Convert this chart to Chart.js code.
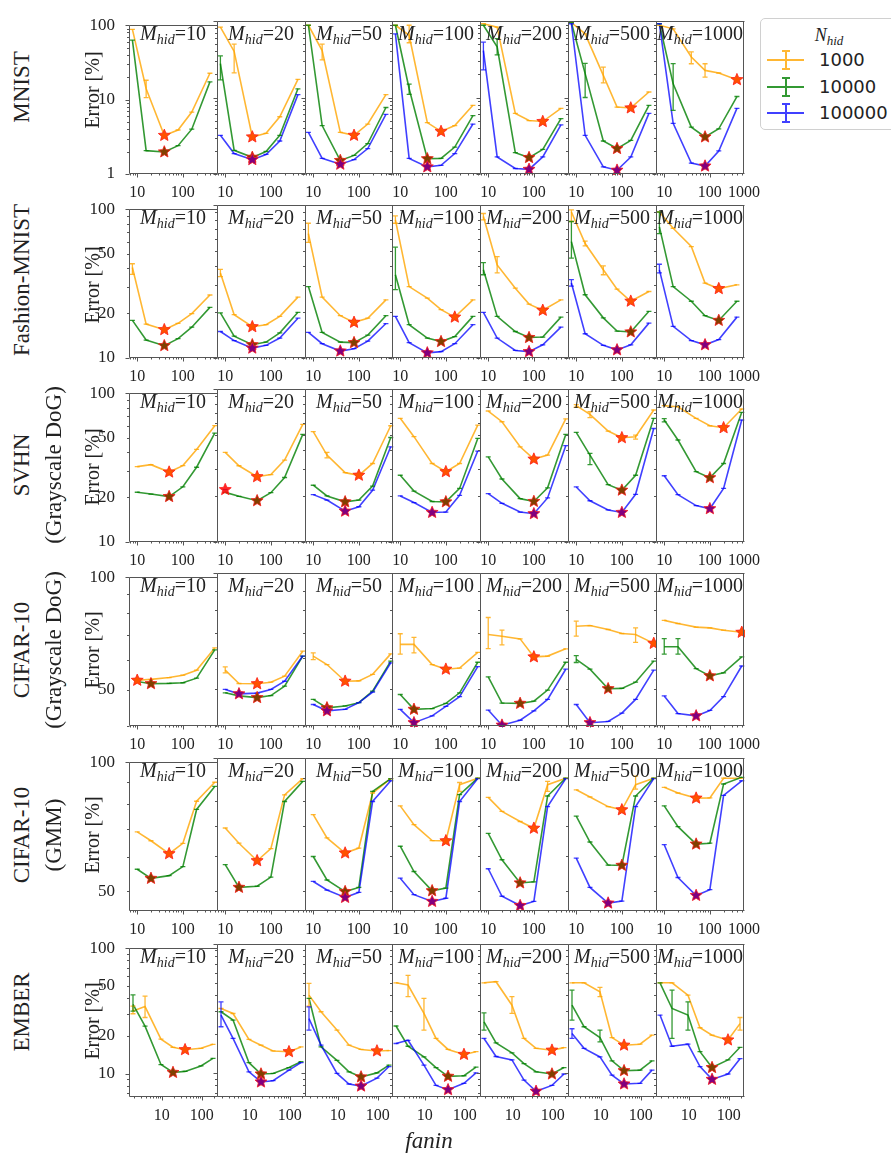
<!DOCTYPE html>
<html>
<head>
<meta charset="utf-8">
<script src="https://cdn.jsdelivr.net/npm/chart.js@4.4.1/dist/chart.umd.min.js"></script>
<style>
  body { margin: 0; background: #fff; }
  #page { position: relative; width: 891px; height: 1158px; overflow: hidden; font-family: 'Liberation Serif', serif; color: #222; }
  canvas { position: absolute; z-index: 1; }
  .t { position: absolute; white-space: nowrap; line-height: 1; z-index: 2; }
  .rot { transform: translate(-50%, -50%) rotate(-90deg); }
  .mh { font-size: 20px; line-height: 20px; transform: translateX(-50%); }
  .mh sub, .nh sub { font-style: italic; vertical-align: -4px; line-height: 0; }
  .mh sub { font-size: 14px; }
  #legend { position: absolute; left: 760px; top: 18px; width: 150px; height: 110px; border: 1px solid #d0d0d0; border-radius: 5px; background: #fff; z-index: 3; }
  .nh { position: absolute; left: 68px; top: 6px; transform: translateX(-50%); font-size: 18px; font-style: italic; }
  .nh sub { font-size: 13px; }
  .li { position: absolute; left: 58px; font-family: 'DejaVu Sans', sans-serif; font-size: 18px; line-height: 20px; }
  .ic { position: absolute; }
</style>
</head>
<body>
<div id="page"></div>
<script>
// panels: rows = datasets, columns = M_hid
const mHid = [10, 20, 50, 100, 200, 500, 1000]
const rowNames = [['MNIST'], ['Fashion-MNIST'], ['SVHN', '(Grayscale DoG)'], ['CIFAR-10', '(Grayscale DoG)'], ['CIFAR-10', '(GMM)'], ['EMBER']]
const nHid = ['1000', '10000', '100000']

// fanin values (x)
const mnistFanin = [7.84, 15.68, 39.2, 78.4, 156.8, 392]
const imageFanin = [10, 20, 50, 100, 200, 500]
const emberFanin = [1.9, 3.8, 9.5, 19, 38, 95, 190]

// tick labels
const xTickVals = [10, 100, 1000]
const yLow = [1, 10, 10, 40, 45, 6.5]
const yTickLabels = [[1, 10, 100], [10, 20, 50, 100], [10, 20, 50, 100], [50, 100], [50, 100], [10, 20, 50, 100]]

// error [%], one sub-array per M_hid panel
const mnistOrange = [
  [88, 14, 3.3, 3.9, 6.8, 22.6],
  [83, 40, 3.05, 3.4, 5.6, 17.3],
  [88, 41, 3.5, 3.2, 4.5, 10.9],
  [88, 65, 4.7, 3.6, 4.3, 7.9],
  [92, 83, 6.2, 5.0, 4.85, 7.2],
  [95, 68, 19.5, 7.5, 7.3, 11.8],
  [88, 79, 33.8, 22.6, 20.9, 17.1]
]
const mnistGreen = [
  [63, 2.06, 1.98, 2.4, 4.0, 17.3],
  [27.7, 2.04, 1.65, 1.97, 3.2, 13],
  [88, 4.3, 1.5, 1.75, 2.5, 7.4],
  [88, 13, 1.58, 1.6, 2.25, 5.8],
  [88, 46, 1.9, 1.64, 2.1, 5.3],
  [95, 20.5, 2.7, 2.15, 2.75, 7.9],
  [92, 15.1, 4.1, 3.05, 3.9, 10.3]
]
const mnistBlue = [
  null,
  [3.2, 1.85, 1.54, 1.8, 2.7, 10.9],
  [3.5, 1.6, 1.34, 1.54, 2.15, 6.0],
  [68, 1.6, 1.24, 1.3, 1.85, 4.5],
  [41, 1.67, 1.18, 1.15, 1.67, 4.4],
  [92, 3.2, 1.24, 1.12, 1.67, 6.2],
  [92, 4.6, 1.39, 1.27, 2.0, 7.2]
]
const fmnistOrange = [
  [40.6, 16.9, 15.5, 17.1, 19.9, 26.5],
  [35.9, 19.2, 16.0, 16.5, 18.7, 25],
  [65, 25, 18.9, 17.1, 18.2, 24.0],
  [80, 29.3, 24.6, 20.7, 18.5, 24],
  [84, 40.6, 28.6, 22.5, 20.5, 24.0],
  [90, 56, 37.7, 28.2, 23.5, 27.2],
  [90, 70.5, 53.5, 30.9, 28.4, 30.1]
]
const fmnistGreen = [
  [17.9, 13.2, 12.1, 13.5, 16.1, 21.9],
  [19.7, 13.9, 12.2, 12.7, 14.6, 19.9],
  [29.3, 14.7, 12.7, 12.6, 14.1, 18.9],
  [35, 16.5, 13.5, 12.8, 13.8, 18.7],
  [37.7, 18.7, 14.9, 13.6, 13.7, 18.5],
  [57.6, 25.9, 18.3, 15.0, 14.8, 20.2],
  [72, 29.3, 23.5, 18.9, 17.6, 23.5]
]
const fmnistBlue = [
  null,
  [14.9, 13.0, 11.6, 12.1, 13.5, 18.2],
  [14.7, 12.4, 11.1, 11.5, 12.9, 16.8],
  [18.7, 12.6, 10.8, 11.0, 12.4, 16.5],
  [19.9, 13.5, 11.2, 11.0, 12.2, 15.9],
  [30.9, 14.4, 12.1, 11.3, 12.2, 16.9],
  [37.7, 16.1, 13.0, 12.2, 13.2, 18.5]
]
const svhnOrange = [
  [32.1, 33.1, 29.5, 32.6, 41.9, 60.5],
  [38.5, 31.5, 26.7, 27.6, 34.3, 58.7],
  [52.6, 37, 28.4, 27.3, 32.6, 57.5],
  [64.3, 48.8, 32.6, 28.8, 32.6, 58.1],
  [71.8, 61.1, 41.9, 34.8, 37, 63.7],
  [77.8, 68.2, 53.1, 48, 48.7, 72.9],
  [77.8, 76.6, 64.3, 57.5, 55.8, 74]
]
const svhnGreen = [
  [21.6, 21, 20.2, 23.5, 31.8, 53.9],
  [21.1, 19.9, 18.6, 21, 26.4, 50.5],
  [23.5, 20, 18.3, 18.8, 23.2, 48.2],
  [27.3, 21.5, 18.4, 18.3, 22.4, 47.5],
  [36, 25.8, 19.2, 18.4, 22.6, 50.5],
  [52, 37, 23.7, 21.8, 27.3, 64.3],
  [62.7, 46.4, 28.8, 26.3, 32.6, 70.4]
]
const svhnBlue = [
  null,
  [22, null, null, null, null, null],
  [20.4, 18.8, 15.9, 17.0, 21.8, 41.9],
  [20, 18.1, 15.6, 15.7, 20.2, 39.3],
  [20.7, 17.9, 15.7, 15.3, 19.4, 42.6],
  [22.9, 18.6, 16.2, 15.6, 20.5, 55.2],
  [27.1, 20.4, 17.3, 16.5, 22.4, 62.7]
]
const cdogOrange = [
  [53.0, 53.3, 53.9, 54.7, 56.4, 64.7],
  [55.9, 51.6, 51.5, 52, 53.9, 62.6],
  [60.8, 57.8, 52.3, 52.4, 54.5, 61.6],
  [65.2, 65.2, 57.8, 56.2, 56.6, 62.2],
  [69.2, 68.5, 67.4, 60.5, 60.8, 63.5],
  [72.7, 73.0, 71.3, 69.6, 69.2, 65.6],
  [75.3, 73.9, 72.3, 72.0, 71.0, 70.1]
]
const cdogGreen = [
  [52.6, 51.9, 52.0, 52.2, 53.7, 63.9],
  [48.8, 47.9, 47.4, 48, 50.8, 60.8],
  [46.9, 44.6, 45.1, 46, 49.3, 59.0],
  [48.3, 44.2, 44.4, 45.8, 48.8, 58.6],
  [53.7, 45.9, 45.8, 46.4, 49.6, 58.6],
  [59.6, 56.2, 50.0, 50.1, 52.0, 59.0],
  [64.3, 64.3, 56.4, 54.0, 55.0, 60.5]
]
const cdogBlue = [
  null,
  [49.8, 48.5, 48.7, 49.8, 52.3, 60.8],
  [45.5, 43.8, 44.2, 46.0, 49, 58.4],
  [44.2, 40.8, 42.5, 45, 47.7, 57.1],
  [44.0, 40.2, 41.4, 43.8, 46.9, 56.2],
  [45.5, 40.8, 41.1, 43.2, 46.9, 55.9],
  [47.9, 43.1, 42.5, 43.9, 47.7, 57.3]
]
const gmmOrange = [
  [68.8, 65.6, 61.2, 64.7, 81.1, 89.8],
  [69.4, 64.1, 58.5, 62.3, 82.5, 89.8],
  [74.4, 65.9, 60.9, 62.5, 83.3, 89.8],
  [77.9, 70.6, 65.0, 64.9, 87.0, 90],
  [81.4, 75.7, 71.8, 69.3, 87.0, 90],
  [84.7, 81.6, 77.6, 76.3, 87.0, 90],
  [85.8, 83.3, 81.1, 81.2, 90, 90]
]
const gmmGreen = [
  [56.3, 53.6, 54.4, 57.1, 77.6, 87.8],
  [57.3, 50.9, 51.2, 53.7, 79.7, 88.5],
  [59.8, 52.9, 49.8, 50.9, 84.0, 89.8],
  [63.1, 55.3, 50.0, 50.7, 82.6, 90],
  [67.5, 58.8, 52.1, 52.4, 82.0, 90],
  [73.8, 64.5, 57.2, 57.1, 82.0, 90],
  [77.9, 69.9, 63.8, 64.1, 87.3, 90.4]
]
const gmmBlue = [
  null,
  null,
  [52.5, 50.2, 48.3, 49.6, 79.7, 88.8],
  [53.4, 49.0, 47.3, 48.1, 79.7, 89.8],
  [56.1, 48.6, 46.3, 47.3, 77.6, 89.8],
  [59.3, 50.9, 46.9, 47.4, 77.6, 89.8],
  [63.6, 53.6, 48.8, 50.3, 82.3, 88.8]
]
const emberOrange = [
  [31.6, 34.2, 18.8, 16.2, 15.5, 15.9, 17.1],
  [31.6, 28.9, 18.2, 16.4, 14.8, 14.6, 15.9],
  [40.1, 29.8, 21.5, 16.4, 15.2, 14.8, 14.9],
  [50, 48, 29, 18.5, 15.2, 13.9, 14.6],
  [50, 51, 33.5, 18.5, 15.5, 15.0, 15.7],
  [50, 50, 42.6, 18.8, 16.4, 16.7, 19.6],
  [50, 50, 40.1, 22.4, 19.6, 18.0, 24.1]
]
const emberGreen = [
  [35.6, 23.9, 11.8, 10.2, 10.4, 11.5, 13.2],
  [29.8, 25.7, 12.0, 9.8, 9.9, 11.0, 12.2],
  [37.9, 15.9, 12.5, 10.2, 9.3, 10.0, 11.5],
  [23.1, 16.1, 13.3, 11.0, 9.4, 9.5, 11.1],
  [24.9, 17.1, 14.3, 11.8, 10.2, 9.8, 11.0],
  [33.5, 22.8, 18.8, 12.4, 10.4, 10.5, 12.4],
  [50, 31.6, 28.1, 14.6, 11.0, 12.6, 15.8]
]
const emberBlue = [
  null,
  [28.1, 18.5, 10.2, 8.5, 8.7, 10.5, 12.0],
  [26.4, 16.4, 9.9, 8.2, 7.9, 9.1, 11.2],
  [16.9, 17.9, 11.5, 8.0, 7.4, 8.3, 10.0],
  [18.5, 13.4, 12.6, 8.8, 7.2, 8.0, 9.8],
  [20.2, 15.5, 13.3, 9.6, 8.2, 8.3, 10.5],
  [28.1, 16.1, 16.7, 11.2, 8.9, 9.8, 12.9]
]

// larger error bars: [row, panel, series, point, low, high]
const errBars = [
  [0,0,0,1,10.6,18.2],
  [0,1,0,1,21,50], [0,1,1,0,17,35],
  [0,2,0,1,31,50],
  [0,3,0,1,52,88], [0,3,1,1,11,15],
  [0,4,1,1,36,59], [0,4,2,0,23,53],
  [0,5,0,2,15.5,25], [0,5,1,1,10,28],
  [0,6,0,2,27.6,39.5], [0,6,0,3,18.5,27.6], [0,6,1,1,6.8,27.7],
  [1,0,0,0,36.5,43],
  [1,1,0,0,34,38],
  [1,2,0,0,57,76],
  [1,3,0,0,76,85], [1,3,1,0,28,53],
  [1,4,0,0,80,88], [1,4,0,1,36,46], [1,4,1,0,35,42],
  [1,5,0,0,78,93], [1,5,0,1,54,58], [1,5,0,2,35,40], [1,5,1,0,45,78], [1,5,2,0,29.5,32.5],
  [1,6,1,0,65,90], [1,6,2,0,36,41],
  [2,2,0,1,35.5,38.5],
  [2,5,0,0,76,79], [2,5,0,1,65,71], [2,5,0,4,47,50], [2,5,1,1,32,38],
  [2,6,1,0,61,64],
  [3,1,0,0,55,57],
  [3,2,0,0,59.5,62],
  [3,3,0,0,61.5,69.5], [3,3,0,1,62,68],
  [3,4,0,0,63.6,76.6], [3,4,0,1,65,71],
  [3,5,0,0,68.5,75], [3,5,0,4,66,72], [3,5,1,0,58.5,61],
  [3,6,1,0,61.5,67.5], [3,6,1,1,61.5,67.5],
  [4,3,0,4,84,88],
  [4,4,0,4,84,88.5],
  [4,5,0,4,85,91],
  [5,0,0,0,30,34.5], [5,0,0,1,28,41.4], [5,0,1,0,31.5,42.5],
  [5,1,2,0,22.8,35.6],
  [5,2,0,0,33,49.5], [5,2,2,0,21.5,32.5],
  [5,3,0,1,39,57], [5,3,0,2,21.5,37.8],
  [5,4,0,2,29,39], [5,4,1,0,21.5,29.2],
  [5,5,1,0,25.7,43.9], [5,5,0,2,39,46], [5,5,2,0,18.5,22], [5,5,1,2,17.4,21.5],
  [5,6,1,1,18.5,43.9], [5,6,1,2,21.5,35.6], [5,6,0,6,21.5,26.9]
]

const rowFanin = [mnistFanin, mnistFanin, imageFanin, imageFanin, imageFanin, emberFanin]
const rowSeries = [
  [mnistOrange, mnistGreen, mnistBlue],
  [fmnistOrange, fmnistGreen, fmnistBlue],
  [svhnOrange, svhnGreen, svhnBlue],
  [cdogOrange, cdogGreen, cdogBlue],
  [gmmOrange, gmmGreen, gmmBlue],
  [emberOrange, emberGreen, emberBlue]
]

// layout
const colLeft = [129, 217, 305, 392, 480, 568, 656]
const rowTop = [21, 205, 389, 573, 758, 944]
const plotW = 88, plotH = 153
const padL = 44, padR = 30, padT = 12, padB = 30
const xRange = [[6.6, 560], [6.6, 560], [6.6, 560], [6.6, 560], [6.6, 560], [1.51, 239]]
const lineColor = ['rgba(255,165,0,0.8)', 'rgba(0,128,0,0.8)', 'rgba(0,0,255,0.75)']
const solidColor = ['#ffa500', '#008000', '#0000ff']
const rowLabelY = [87, 280, 465, 650, 835, 1012]
const errLabelY = [90, 285, 467, 650, 835, 1021]

Chart.defaults.font.family = "'Liberation Serif', serif"
Chart.defaults.color = '#222'

const page = document.getElementById('page')

function starPath(ctx, x, y, R) {
  const r = R * 0.45
  ctx.beginPath()
  for (let k = 0; k < 10; k++) {
    const a = -Math.PI / 2 + k * Math.PI / 5
    const rad = k % 2 ? r : R
    ctx.lineTo(x + rad * Math.cos(a), y + rad * Math.sin(a))
  }
  ctx.closePath()
}

const decor = {
  id: 'decor',
  afterDatasetsDraw(chart) {
    const ctx = chart.ctx, a = chart.chartArea, ys = chart.scales.y
    ctx.save()
    ctx.beginPath()
    ctx.rect(a.left - 1, a.top - 1, a.right - a.left + 2, a.bottom - a.top + 2)
    ctx.clip()
    chart.data.datasets.forEach((ds, d) => {
      const meta = chart.getDatasetMeta(d)
      ctx.strokeStyle = ds.borderColor
      ctx.lineWidth = 1.3
      ds.data.forEach((p, i) => {
        if (p.y == null) return
        const x = meta.data[i].x
        const e = ds.errs[i]
        const lo = e ? ys.getPixelForValue(e[0]) : meta.data[i].y
        const hi = e ? ys.getPixelForValue(e[1]) : meta.data[i].y
        ctx.beginPath()
        ctx.moveTo(x, lo); ctx.lineTo(x, hi)
        ctx.moveTo(x - 2.5, lo); ctx.lineTo(x + 2.5, lo)
        ctx.moveTo(x - 2.5, hi); ctx.lineTo(x + 2.5, hi)
        ctx.stroke()
      })
    })
    // stars mark the best fanin of each curve
    chart.data.datasets.forEach((ds, d) => {
      const meta = chart.getDatasetMeta(d)
      let best = -1, n = 0
      ds.data.forEach((p, i) => {
        if (p.y == null) return
        n++
        if (best < 0 || p.y < ds.data[best].y) best = i
      })
      if (best < 0) return
      const el = meta.data[best]
      starPath(ctx, el.x, el.y, 6.3)
      if (n > 1) {
        ctx.fillStyle = ds.solid
        ctx.fill()
        ctx.fillStyle = 'rgba(255,0,0,0.5)'
      } else {
        ctx.fillStyle = 'rgba(255,0,0,0.85)'
      }
      ctx.fill()
      ctx.strokeStyle = 'rgba(255,30,30,0.8)'
      ctx.lineWidth = 1
      ctx.stroke()
    })
    ctx.restore()
  },
  afterDraw(chart, args, opts) {
    const ctx = chart.ctx, a = chart.chartArea
    const xs = chart.scales.x, ys = chart.scales.y
    ctx.save()
    ctx.strokeStyle = '#555'
    ctx.lineWidth = 1
    ctx.beginPath()
    const L = Math.round(a.left) + 0.5, T = Math.round(a.top) + 0.5
    const R = Math.round(a.right) - 0.5, B = Math.round(a.bottom) - 0.5
    ctx.moveTo(L, T); ctx.lineTo(R + 1, T)
    ctx.moveTo(L, T); ctx.lineTo(L, B)
    ctx.moveTo(L, B); ctx.lineTo(R + 1, B)
    if (opts.last) { ctx.moveTo(R, T); ctx.lineTo(R, B) }
    // y ticks, outward on the left spine
    for (let k = Math.floor(Math.log10(ys.min)); k <= 2; k++) {
      for (let m = 1; m <= 9; m++) {
        const v = m * Math.pow(10, k)
        if (v < ys.min - 1e-9 || v > ys.max + 1e-9) continue
        const y = Math.round(ys.getPixelForValue(v)) + 0.5
        ctx.moveTo(L, y); ctx.lineTo(L - (m === 1 ? 4 : 2.5), y)
      }
    }
    // x ticks, outward on the bottom spine
    for (let k = Math.floor(Math.log10(xs.min)); k <= Math.ceil(Math.log10(xs.max)); k++) {
      for (let m = 1; m <= 9; m++) {
        const v = m * Math.pow(10, k)
        if (v < xs.min || v > xs.max) continue
        const x = Math.round(xs.getPixelForValue(v)) + 0.5
        ctx.moveTo(x, B); ctx.lineTo(x, B + (m === 1 ? 4 : 2))
      }
    }
    ctx.stroke()
    ctx.restore()
  }
}

function makePanel(r, c) {
  const cv = document.createElement('canvas')
  cv.width = plotW + padL + padR
  cv.height = plotH + padT + padB
  cv.style.left = (colLeft[c] - padL) + 'px'
  cv.style.top = (rowTop[r] - padT) + 'px'
  page.appendChild(cv)
  const fanin = rowFanin[r]
  const datasets = []
  rowSeries[r].forEach((ser, s) => {
    const vals = ser[c]
    if (!vals) return
    const errs = vals.map(() => null)
    errBars.forEach(e => { if (e[0] === r && e[1] === c && e[2] === s) errs[e[3]] = [e[4], e[5]] })
    datasets.push({
      label: nHid[s],
      data: vals.map((v, i) => ({ x: fanin[i], y: v })),
      borderColor: lineColor[s],
      borderWidth: 1.6,
      pointRadius: 0,
      tension: 0,
      order: 3 - s,
      errs: errs,
      solid: solidColor[s]
    })
  })
  new Chart(cv, {
    type: 'line',
    data: { datasets },
    options: {
      responsive: false,
      animation: false,
      devicePixelRatio: 1,
      events: [],
      layout: { padding: { left: 0, right: padR, top: padT, bottom: 0 } },
      plugins: { legend: { display: false }, tooltip: { enabled: false }, decor: { last: c === 6 } },
      scales: {
        x: {
          type: 'logarithmic',
          min: xRange[r][0],
          max: xRange[r][1],
          afterBuildTicks: s => {
            const t = xTickVals.filter(v => v > s.min && v < s.max).map(v => ({ value: v }))
            if (c === 6 && r < 5) t.push({ value: s.max })
            s.ticks = t
          },
          ticks: {
            autoSkip: false, maxRotation: 0, padding: 1,
            font: { size: 16 },
            callback: function (v) { return v >= this.max ? String(xTickVals[2]) : String(v) }
          },
          grid: { display: false },
          border: { display: false },
          afterFit: s => { s.height = padB }
        },
        y: {
          type: 'logarithmic',
          min: yLow[r],
          max: 100,
          afterBuildTicks: s => { s.ticks = yTickLabels[r].map(v => ({ value: v })) },
          ticks: {
            display: c === 0, autoSkip: false, padding: 6,
            font: { size: 17 },
            callback: v => String(v)
          },
          grid: { display: false },
          border: { display: false },
          afterFit: s => { s.width = padL }
        }
      }
    },
    plugins: [decor]
  })
}

function addText(html, cls, style) {
  const d = document.createElement('div')
  d.className = 't ' + cls
  d.innerHTML = html
  Object.assign(d.style, style)
  page.appendChild(d)
  return d
}

for (let r = 0; r < 6; r++) {
  for (let c = 0; c < 7; c++) {
    makePanel(r, c)
    addText('<i>M</i><sub>hid</sub>=' + mHid[c], 'mh', { left: (colLeft[c] + plotW / 2) + 'px', top: (rowTop[r] + 2) + 'px' })
  }
  const names = rowNames[r]
  names.forEach((n, i) => {
    const x = names.length === 1 ? 21 : (i === 0 ? 21 : 53)
    addText(n, 'rot', { left: x + 'px', top: rowLabelY[r] + 'px', fontSize: '23px' })
  })
  addText('Error [%]', 'rot', { left: '92px', top: errLabelY[r] + 'px', fontSize: '20px' })
}
addText('<i>fanin</i>', '', { left: '429px', top: '1129px', fontSize: '23px', transform: 'translateX(-50%)' })

// legend
const lg = document.createElement('div')
lg.id = 'legend'
lg.innerHTML = '<div class="nh"><i>N</i><sub>hid</sub></div>'
nHid.forEach((n, s) => {
  const cy = 41 + s * 26.5
  const icon = document.createElement('canvas')
  icon.className = 'ic'
  icon.width = 40; icon.height = 22
  icon.style.left = '5px'; icon.style.top = (cy - 11) + 'px'
  const g = icon.getContext('2d')
  g.strokeStyle = lineColor[s]; g.lineWidth = 2
  g.beginPath()
  g.moveTo(1, 11); g.lineTo(38, 11)
  g.moveTo(20, 2); g.lineTo(20, 20)
  g.moveTo(16, 2); g.lineTo(24, 2)
  g.moveTo(16, 20); g.lineTo(24, 20)
  g.stroke()
  lg.appendChild(icon)
  const t = document.createElement('div')
  t.className = 'li'
  t.style.top = (cy - 10) + 'px'
  t.textContent = n
  lg.appendChild(t)
})
page.appendChild(lg)
</script>
</body>
</html>
